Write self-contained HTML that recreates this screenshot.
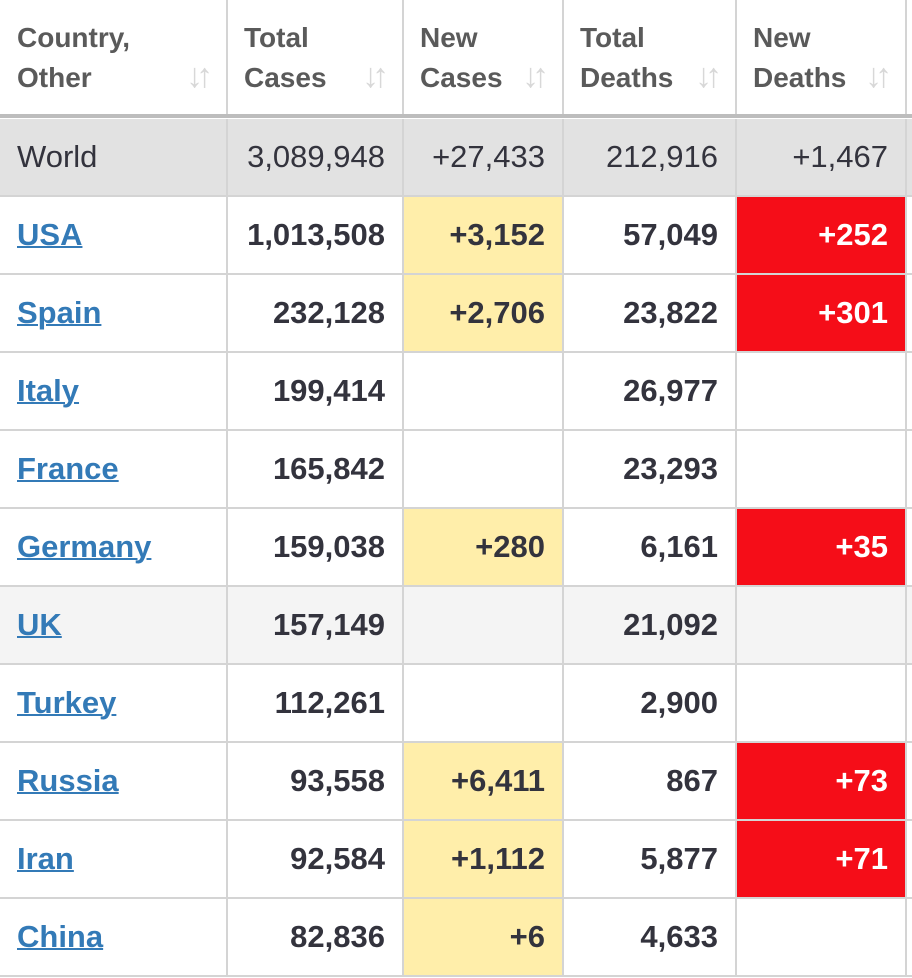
<!DOCTYPE html><html><head><style>
body{margin:0;width:912px;height:978px;background:#fff;font-family:"Liberation Sans",Arial,sans-serif;overflow:hidden;position:relative}
.c{position:absolute;box-sizing:border-box;border-right:2px solid #d4d4d4;border-bottom:2px solid #d4d4d4;display:flex;align-items:center;font-size:31px;color:#33333d}
.r{justify-content:flex-end;padding-right:17px;font-weight:bold}
.l{padding-left:17px}
a{color:#337ab7;font-weight:bold;text-decoration:underline;text-decoration-thickness:2px}
.h{font-size:28px;font-weight:bold;color:#5a5a5a;line-height:40px;align-items:flex-start;padding-top:18px}
.ic{position:absolute;right:20px;top:56px;color:#d8d8d8;font-size:34px;font-weight:bold;letter-spacing:-7px}
.y{background:#ffeeaa}.red{background:#f50d18;color:#fff}
.w{background:#e2e2e2;font-weight:normal}
.g{background:#f4f4f4}
</style></head><body>
<div id="t"></div>
<div style="position:absolute;left:0;top:114px;width:912px;height:4px;background:#bdbdbd"></div>
<script>
var X=[0,228,404,564,737,907,912];
var H=["Country,<br>Other","Total<br>Cases","New<br>Cases","Total<br>Deaths","New<br>Deaths"];
var R=[["World","3,089,948","+27,433","212,916","+1,467","w"],
["USA","1,013,508","+3,152","57,049","+252"],
["Spain","232,128","+2,706","23,822","+301"],
["Italy","199,414","","26,977",""],
["France","165,842","","23,293",""],
["Germany","159,038","+280","6,161","+35"],
["UK","157,149","","21,092","","g"],
["Turkey","112,261","","2,900",""],
["Russia","93,558","+6,411","867","+73"],
["Iran","92,584","+1,112","5,877","+71"],
["China","82,836","+6","4,633",""]];
var s="";
for(var i=0;i<5;i++){s+='<div class="c h l" style="left:'+X[i]+'px;top:0px;width:'+(X[i+1]-X[i])+'px;height:116px;padding-left:'+(i==0?17:16)+'px">'+H[i]+'<span class="ic">↓↑</span></div>';}
s+='<div class="c" style="left:907px;top:0px;width:5px;height:116px;border-right:0"></div>';
for(var j=0;j<R.length;j++){var r=R[j],ty=119+j*78,cl=r[5]||"";
 for(var i=0;i<5;i++){var v=r[i],k=cl;
  if(i==2&&v&&!cl)k="y";if(i==4&&v&&!cl)k="red";
  var txt=i==0?(cl=="w"?v:'<a>'+v+'</a>'):v;
  s+='<div class="c '+(i==0?'l':'r')+' '+k+'" style="left:'+X[i]+'px;top:'+ty+'px;width:'+(X[i+1]-X[i])+'px;height:78px'+(cl=="w"?';font-weight:normal':'')+'">'+txt+'</div>';}
 s+='<div class="c '+cl+'" style="left:907px;top:'+ty+'px;width:5px;height:78px;border-right:0"></div>';}
document.getElementById("t").innerHTML=s;
</script>
</body></html>
